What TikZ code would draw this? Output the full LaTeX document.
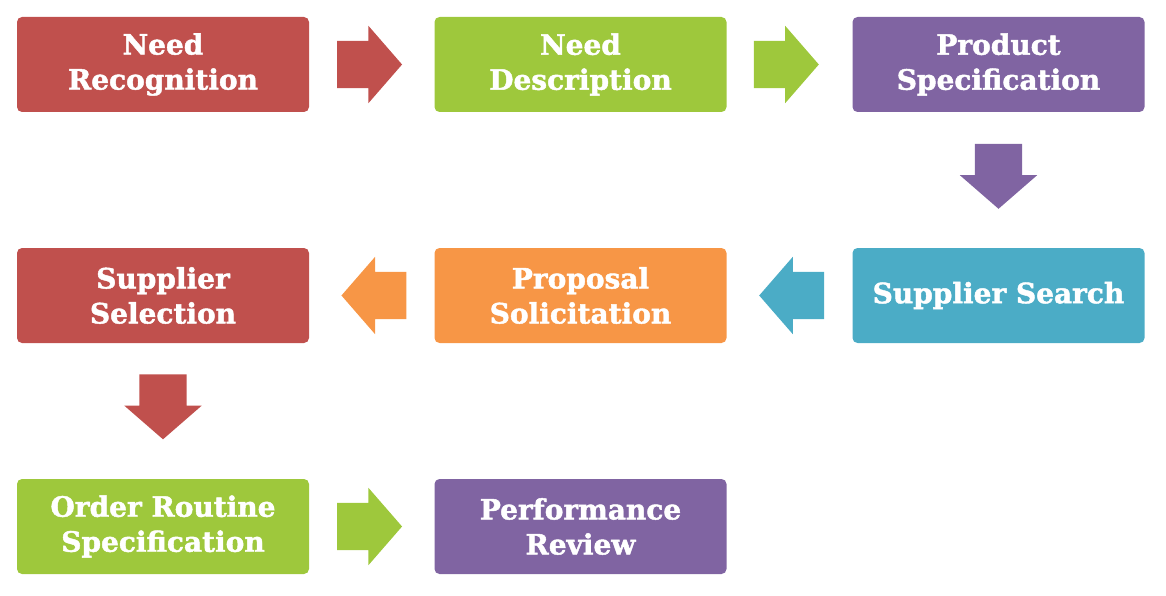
\documentclass[tikz,border=0pt]{standalone}
\usepackage{fontspec}
\setmainfont{DejaVu Serif}[BoldFeatures={FakeBold=1.6}]
\usetikzlibrary{shapes.arrows,calc}
\definecolor{cred}{HTML}{C0504D}
\definecolor{cgreen}{HTML}{9EC83C}
\definecolor{cpurple}{HTML}{8064A2}
\definecolor{ccyan}{HTML}{4BACC6}
\definecolor{corange}{HTML}{F79646}
\tikzset{
  stage/.style={rectangle, rounded corners=5pt, minimum width=292pt, minimum height=95pt,
    inner sep=0pt, text=white, align=center,
    font=\fontsize{28}{35}\selectfont\bfseries},
  blockarrow/.style={single arrow, minimum height=65pt,
    single arrow head extend=15pt, single arrow tip angle=98, inner sep=0pt, draw=none}
}
\newcommand\shaft{\rule{0pt}{47pt}}
\begin{document}
\begin{tikzpicture}[x=1pt,y=-1pt]
\useasboundingbox (0,0) rectangle (1166,596);
\node[stage, fill=cred]    (nr) at (163,64.5)   {Need\\Recognition};
\node[stage, fill=cgreen]  (nd) at (580.5,64.5) {Need\\Description};
\node[stage, fill=cpurple] (ps) at (998.5,64.5) {Product\\Specification};
\node[stage, fill=ccyan]   (ss) at (998.5,295.5) {Supplier Search};
\node[stage, fill=corange] (pso) at (580.5,295.5) {Proposal\\Solicitation};
\node[stage, fill=cred]    (sse) at (163,295.5) {Supplier\\Selection};
\node[stage, fill=cgreen]  (ors) at (163,526.5) {Order Routine\\Specification};
\node[stage, fill=cpurple] (pr) at (580.5,526.5) {Performance\\Review};

\node[blockarrow, fill=cred] (a1) at ($(nr.east)!0.5!(nd.west)+(-12.5,0)$) {\shaft};
\node[blockarrow, fill=cgreen] (a2) at ($(nd.east)!0.5!(ps.west)+(-13.5,0)$) {\shaft};
\node[blockarrow, fill=cpurple, rotate=-90] (a3) at ($(ps.south)!0.5!(ss.north)+(0,-14)$) {\shaft};
\node[blockarrow, fill=ccyan, rotate=180] (a4) at ($(ss.west)!0.5!(pso.east)+(12.5,0)$) {\shaft};
\node[blockarrow, fill=corange, rotate=180] (a5) at ($(pso.west)!0.5!(sse.east)+(12.5,0)$) {\shaft};
\node[blockarrow, fill=cred, rotate=-90] (a6) at ($(sse.south)!0.5!(ors.north)+(0,-14.5)$) {\shaft};
\node[blockarrow, fill=cgreen] (a7) at ($(ors.east)!0.5!(pr.west)+(-12.5,0)$) {\shaft};
\end{tikzpicture}
\end{document}
